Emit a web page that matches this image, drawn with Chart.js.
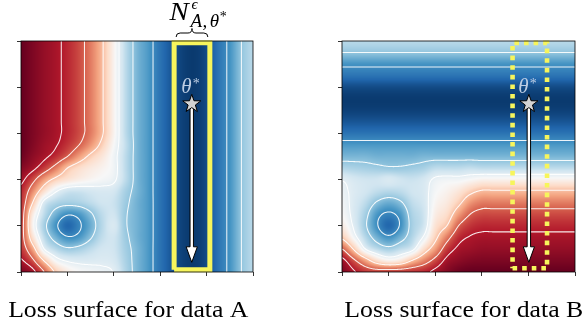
<!DOCTYPE html>
<html>
<head>
<meta charset="utf-8">
<script src="https://cdn.jsdelivr.net/npm/chart.js@4.4.1/dist/chart.umd.min.js"></script>
<style>
  body { margin: 0; background: #fff; }
  #wrap { position: relative; width: 586px; height: 324px; overflow: hidden; }
  .panel { position: absolute; top: 0; width: 293px; height: 324px; }
</style>
</head>
<body>
<div id="wrap">
  <div class="panel" style="left:0"><canvas id="chartA"></canvas></div>
  <div class="panel" style="left:293px"><canvas id="chartB"></canvas></div>
</div>
<script>
// axes run 0..5 on both panels, ticks without labels
const xTicks = [0, 1, 2, 3, 4, 5];
const yTicks = [0, 1, 2, 3, 4, 5];
const gridStep = 0.25;
const contourLevels = [18, 30, 45, 65, 80, 90];

// loss (0 = darkest blue, 100 = darkest red)
// rows go from y = 0 upward, columns from x = 0 to 5 in steps of 0.25
const lossA = [
  [97, 92.5, 80, 63, 54, 50, 48.5, 47, 44.5, 35, 27, 21, 13, 7, 3, 2, 5, 13, 20, 30, 36],
  [91, 82, 64, 49, 44, 42.5, 42.5, 43, 41.5, 34, 27, 21, 13, 7, 3, 2, 5, 13, 20, 30, 36],
  [86, 70, 45, 36, 31.5, 33, 37, 40.5, 40, 33, 27, 21, 13, 7, 3, 2, 5, 13, 20, 30, 36],
  [84.5, 58, 37, 26, 19, 21, 29, 37.5, 40, 32, 26, 21, 13, 7, 3, 2, 5, 13, 20, 30, 36],
  [85, 52, 33, 20, 10.5, 16.5, 25, 36, 42, 31, 26, 21, 13, 7, 3, 2, 5, 13, 20, 30, 36],
  [85.5, 55, 37, 26, 19, 21, 28.5, 37, 40, 31, 26, 21, 13, 7, 3, 2, 5, 13, 20, 30, 36],
  [86.5, 65, 42, 35, 33, 34, 37, 40, 39, 32, 26, 21, 13, 7, 3, 2, 5, 13, 20, 30, 36],
  [88, 74, 58, 46, 40, 39.5, 41, 42, 41, 33.5, 27, 21, 13, 7, 3, 2, 5, 13, 20, 30, 36],
  [92, 83, 71, 62, 57, 53.5, 51, 49, 46.5, 37, 27, 21, 13, 7, 3, 2, 5, 13, 20, 30, 36],
  [96, 92, 85, 76, 65, 59, 55, 52, 48, 37, 27, 21, 13, 7, 3, 2, 5, 13, 20, 30, 36],
  [99, 95, 91.5, 87, 80, 71, 62.5, 56, 48, 37, 27, 21, 13, 7, 3, 2, 5, 13, 20, 30, 36],
  [100, 96.5, 93, 90.5, 86, 80, 72, 62, 50, 38, 27, 21, 13, 7, 3, 2, 5, 13, 20, 30, 36],
  [100, 97, 94, 91.5, 88, 83, 76, 66, 52, 37, 27, 21, 13, 7, 3, 2, 5, 13, 20, 30, 36],
  [100, 97, 94, 91.5, 88, 83, 76, 66, 52, 37, 27, 21, 13, 7, 3, 2, 5, 13, 20, 30, 36],
  [100, 97, 94, 91.5, 88, 83, 76, 66, 52, 37, 27, 21, 13, 7, 3, 2, 5, 13, 20, 30, 36],
  [100, 97, 94, 91.5, 88, 83, 76, 66, 52, 37, 27, 21, 13, 7, 3, 2, 5, 13, 20, 30, 36],
  [100, 97, 94, 91.5, 88, 83, 76, 66, 52, 37, 27, 21, 13, 7, 3, 2, 5, 13, 20, 30, 36],
  [100, 97, 94, 91.5, 88, 83, 76, 66, 52, 37, 27, 21, 13, 7, 3, 2, 5, 13, 20, 30, 36],
  [100, 97, 94, 91.5, 88, 83, 76, 66, 52, 37, 27, 21, 13, 7, 3, 2, 5, 13, 20, 30, 36],
  [100, 97, 94, 91.5, 88, 83, 76, 66, 52, 37, 27, 21, 13, 7, 3, 2, 5, 13, 20, 30, 36],
  [100, 97, 94, 91.5, 88, 83, 76, 66, 52, 37, 27, 21, 13, 7, 3, 2, 5, 13, 20, 30, 36]
];

const lossB = [
  [97, 91, 86, 84.5, 85, 85.5, 86.5, 88, 92, 96, 99, 100, 100, 100, 100, 100, 100, 100, 100, 100, 100],
  [92.5, 82, 70, 58, 52, 55, 65, 74, 83, 92, 95, 96.5, 97, 97, 97, 97, 97, 97, 97, 97, 97],
  [80, 64, 45, 37, 33, 37, 42, 58, 71, 85, 91.5, 93, 94, 94, 94, 94, 94, 94, 94, 94, 94],
  [63, 49, 36, 26, 20, 26, 35, 46, 62, 76, 87, 90.5, 91.5, 91.5, 91.5, 91.5, 91.5, 91.5, 91.5, 91.5, 91.5],
  [54, 44, 31.5, 19, 10.5, 19, 33, 40, 57, 65, 80, 86, 88, 88, 88, 88, 88, 88, 88, 88, 88],
  [50, 42.5, 33, 21, 16.5, 21, 34, 39.5, 53.5, 59, 71, 80, 83, 83, 83, 83, 83, 83, 83, 83, 83],
  [48.5, 42.5, 37, 29, 25, 28.5, 37, 41, 51, 55, 62.5, 72, 76, 76, 76, 76, 76, 76, 76, 76, 76],
  [47, 43, 40.5, 37.5, 36, 37, 40, 42, 49, 52, 56, 62, 66, 66, 66, 66, 66, 66, 66, 66, 66],
  [44.5, 41.5, 40, 40, 42, 40, 39, 41, 46.5, 48, 48, 50, 52, 52, 52, 52, 52, 52, 52, 52, 52],
  [35, 34, 33, 32, 31, 31, 32, 33.5, 37, 37, 37, 38, 37, 37, 37, 37, 37, 37, 37, 37, 37],
  [27, 27, 27, 26, 26, 26, 26, 27, 27, 27, 27, 27, 27, 27, 27, 27, 27, 27, 27, 27, 27],
  [21, 21, 21, 21, 21, 21, 21, 21, 21, 21, 21, 21, 21, 21, 21, 21, 21, 21, 21, 21, 21],
  [13, 13, 13, 13, 13, 13, 13, 13, 13, 13, 13, 13, 13, 13, 13, 13, 13, 13, 13, 13, 13],
  [7, 7, 7, 7, 7, 7, 7, 7, 7, 7, 7, 7, 7, 7, 7, 7, 7, 7, 7, 7, 7],
  [3, 3, 3, 3, 3, 3, 3, 3, 3, 3, 3, 3, 3, 3, 3, 3, 3, 3, 3, 3, 3],
  [2, 2, 2, 2, 2, 2, 2, 2, 2, 2, 2, 2, 2, 2, 2, 2, 2, 2, 2, 2, 2],
  [5, 5, 5, 5, 5, 5, 5, 5, 5, 5, 5, 5, 5, 5, 5, 5, 5, 5, 5, 5, 5],
  [13, 13, 13, 13, 13, 13, 13, 13, 13, 13, 13, 13, 13, 13, 13, 13, 13, 13, 13, 13, 13],
  [20, 20, 20, 20, 20, 20, 20, 20, 20, 20, 20, 20, 20, 20, 20, 20, 20, 20, 20, 20, 20],
  [30, 30, 30, 30, 30, 30, 30, 30, 30, 30, 30, 30, 30, 30, 30, 30, 30, 30, 30, 30, 30],
  [36, 36, 36, 36, 36, 36, 36, 36, 36, 36, 36, 36, 36, 36, 36, 36, 36, 36, 36, 36, 36]
];

// theta* and the arrow tip below it, the neighbourhood boxes (x0, x1, y0, y1)
const thetaA = [3.68, 3.64];
const thetaB = [4.01, 3.64];
const arrowTipA = [3.68, 0.21];
const arrowTipB = [4.01, 0.21];
const boxA = [3.30, 4.07, 0.05, 4.96];
const boxB = [3.66, 4.40, 0.08, 4.96];
const titles = ['Loss surface for data A', 'Loss surface for data B'];

// RdBu stops, red end first
const rdbu = [[103,0,31],[178,24,43],[214,96,77],[244,165,130],[253,219,199],[247,247,247],
              [209,229,240],[146,197,222],[67,147,195],[33,102,172],[5,48,97]];

function lossColour(v) {
  const t = Math.min(10, Math.max(0, (100 - v) / 10));
  const k = Math.min(9, Math.floor(t)), f = t - k;
  const a = rdbu[k], b = rdbu[k + 1];
  return [a[0] + (b[0] - a[0]) * f, a[1] + (b[1] - a[1]) * f, a[2] + (b[2] - a[2]) * f];
}

// smooth reading of the grid between its nodes
function surfaceAt(grid) {
  const ny = grid.length, nx = grid[0].length;
  const at = (j, i) => grid[Math.max(0, Math.min(ny - 1, j))][Math.max(0, Math.min(nx - 1, i))];
  const cr = (p0, p1, p2, p3, t) =>
    p1 + 0.5 * t * (p2 - p0 + t * (2 * p0 - 5 * p1 + 4 * p2 - p3 + t * (3 * (p1 - p2) + p3 - p0)));
  return (x, y) => {
    const gx = x / gridStep, gy = y / gridStep;
    const i = Math.floor(gx), j = Math.floor(gy);
    const tx = gx - i, ty = gy - j;
    const r = [-1, 0, 1, 2].map(d => cr(at(j + d, i - 1), at(j + d, i), at(j + d, i + 1), at(j + d, i + 2), tx));
    return cr(r[0], r[1], r[2], r[3], ty);
  };
}

const surface = {
  id: 'surface',
  beforeDatasetsDraw(chart, args, opts) {
    const { ctx, chartArea: area, scales } = chart;
    const f = surfaceAt(opts.grid);
    const w = Math.round(area.right - area.left), h = Math.round(area.bottom - area.top);
    const xs = [], vals = new Float32Array(w * h);
    for (let c = 0; c < w; c++) xs.push(scales.x.getValueForPixel(area.left + c + 0.5));
    const img = ctx.createImageData(w, h);
    for (let r = 0; r < h; r++) {
      const yv = scales.y.getValueForPixel(area.top + r + 0.5);
      for (let c = 0; c < w; c++) {
        const v = f(xs[c], yv);
        vals[r * w + c] = v;
        const col = lossColour(v), o = (r * w + c) * 4;
        img.data[o] = col[0]; img.data[o + 1] = col[1]; img.data[o + 2] = col[2]; img.data[o + 3] = 255;
      }
    }
    const off = document.createElement('canvas');
    off.width = w; off.height = h;
    off.getContext('2d').putImageData(img, 0, 0);
    ctx.drawImage(off, area.left, area.top);

    // white contour lines
    ctx.save();
    ctx.strokeStyle = 'rgba(255,255,255,0.9)';
    ctx.lineWidth = 1.05;
    ctx.lineCap = 'round';
    for (const L of contourLevels) {
      ctx.beginPath();
      for (let r = 0; r < h - 1; r++) {
        for (let c = 0; c < w - 1; c++) {
          const a = vals[r * w + c], b = vals[r * w + c + 1];
          const d = vals[(r + 1) * w + c], e = vals[(r + 1) * w + c + 1];
          const X = area.left + c + 0.5, Y = area.top + r + 0.5;
          const pts = [];
          if ((a > L) !== (b > L)) pts.push([X + (L - a) / (b - a), Y]);
          if ((b > L) !== (e > L)) pts.push([X + 1, Y + (L - b) / (e - b)]);
          if ((d > L) !== (e > L)) pts.push([X + (L - d) / (e - d), Y + 1]);
          if ((a > L) !== (d > L)) pts.push([X, Y + (L - a) / (d - a)]);
          for (let k = 0; k + 1 < pts.length; k += 2) {
            ctx.moveTo(pts[k][0], pts[k][1]);
            ctx.lineTo(pts[k + 1][0], pts[k + 1][1]);
          }
        }
      }
      ctx.stroke();
    }
    ctx.restore();
  }
};

function starPath(ctx, cx, cy, R) {
  ctx.beginPath();
  for (let k = 0; k < 10; k++) {
    const ang = -Math.PI / 2 + k * Math.PI / 5;
    const rad = k % 2 ? R * 0.4 : R;
    ctx.lineTo(cx + rad * Math.cos(ang), cy + rad * Math.sin(ang));
  }
  ctx.closePath();
}

const overlay = {
  id: 'overlay',
  afterDatasetsDraw(chart, args, o) {
    const { ctx, chartArea: a, scales: { x, y } } = chart;
    ctx.save();
    // frame
    ctx.strokeStyle = '#000';
    ctx.lineWidth = 0.8;
    ctx.strokeRect(a.left, a.top, a.right - a.left, a.bottom - a.top);

    // arrow from theta* downward
    const ax = x.getPixelForValue(o.theta[0]);
    const y0 = y.getPixelForValue(o.theta[1]);
    const y1 = y.getPixelForValue(o.tip[1]);
    const sw = 1.7, hw = 5.6, hl = 15.5;
    ctx.beginPath();
    ctx.moveTo(ax - sw, y0);
    ctx.lineTo(ax + sw, y0);
    ctx.lineTo(ax + sw, y1 - hl);
    ctx.lineTo(ax + hw, y1 - hl);
    ctx.lineTo(ax, y1);
    ctx.lineTo(ax - hw, y1 - hl);
    ctx.lineTo(ax - sw, y1 - hl);
    ctx.closePath();
    ctx.fillStyle = '#fff';
    ctx.fill();
    ctx.lineWidth = 1;
    ctx.strokeStyle = '#000';
    ctx.stroke();

    // star
    starPath(ctx, ax, y0, 9.5);
    ctx.fillStyle = '#d3d3d3';
    ctx.fill();
    ctx.stroke();

    // theta* label
    ctx.fillStyle = '#bccde4';
    ctx.textBaseline = 'alphabetic';
    ctx.textAlign = 'left';
    ctx.font = 'italic 21px "Liberation Serif"';
    ctx.fillText('θ', ax - 10.5, y0 - 10.5);
    ctx.font = '14px "Liberation Serif"';
    ctx.fillText('*', ax + 1, y0 - 16);
    ctx.restore();
  },
  afterDraw(chart, args, o) {
    const { ctx, scales: { x } } = chart;
    ctx.save();
    ctx.fillStyle = '#000';
    ctx.textBaseline = 'alphabetic';

    // caption under the panel, slightly widened serif to match the original face
    ctx.save();
    ctx.font = '23px "Liberation Serif"';
    ctx.textAlign = 'center';
    ctx.translate(o.captionX, 316.5);
    ctx.scale(1.12, 1);
    ctx.fillText(o.caption, 0, 0);
    ctx.restore();

    if (o.brace) {
      const x0 = x.getPixelForValue(o.brace[0]) + 2, x1 = x.getPixelForValue(o.brace[1]) - 2;
      const xc = (x0 + x1) / 2, yb = 37, ym = 33, yt = 28.5, q = 4;
      ctx.strokeStyle = '#000';
      ctx.lineWidth = 1;
      ctx.beginPath();
      ctx.moveTo(x0, yb);
      ctx.quadraticCurveTo(x0, ym, x0 + q, ym);
      ctx.lineTo(xc - q, ym);
      ctx.quadraticCurveTo(xc, ym, xc, yt);
      ctx.quadraticCurveTo(xc, ym, xc + q, ym);
      ctx.lineTo(x1 - q, ym);
      ctx.quadraticCurveTo(x1, ym, x1, yb);
      ctx.stroke();

      ctx.textAlign = 'left';
      ctx.save();
      ctx.font = 'italic 25px "Liberation Serif"';
      ctx.translate(169.5, 19.5);
      ctx.scale(1.15, 1);
      ctx.fillText('N', 0, 0);
      ctx.restore();
      ctx.font = 'italic 15px "Liberation Serif"';
      ctx.fillText('ϵ', 191.5, 8.5);
      ctx.font = 'italic 19px "Liberation Serif"';
      let px = 190.5;
      ctx.fillText('A', px, 26.5);
      px += ctx.measureText('A').width + 0.5;
      ctx.fillText(',', px, 26.5);
      px += ctx.measureText(',').width + 2.5;
      ctx.fillText('θ', px, 26.5);
      px += ctx.measureText('θ').width + 0.5;
      ctx.font = '14px "Liberation Serif"';
      ctx.fillText('*', px, 20.5);
    }
    ctx.restore();
  }
};

function rectPoints(b) {
  return [{ x: b[0], y: b[2] }, { x: b[1], y: b[2] }, { x: b[1], y: b[3] }, { x: b[0], y: b[3] }, { x: b[0], y: b[2] }];
}

function makeChart(id, grid, box, dotted, theta, tip, caption, captionX, leftW, rightPad, brace) {
  const axis = (ticks, fitFn) => ({
    type: 'linear',
    min: 0,
    max: 5,
    afterBuildTicks: s => { s.ticks = ticks.map(v => ({ value: v })); },
    ticks: { display: false },
    grid: { drawOnChartArea: false, drawTicks: true, tickLength: 4, color: '#000', lineWidth: 0.8 },
    border: { display: false },
    afterFit: fitFn
  });

  return new Chart(document.getElementById(id), {
    type: 'scatter',
    data: {
      datasets: [{
        data: rectPoints(box),
        showLine: true,
        borderColor: '#f7f55c',
        borderWidth: dotted ? 4.6 : 5,
        borderDash: dotted ? [4.6, 5] : [],
        borderCapStyle: 'butt',
        borderJoinStyle: 'miter',
        pointRadius: 0,
        clip: false
      }]
    },
    options: {
      responsive: true,
      maintainAspectRatio: false,
      animation: false,
      events: [],
      layout: { padding: { top: 41, right: rightPad, left: 0, bottom: 0 } },
      plugins: {
        legend: { display: false },
        tooltip: { enabled: false },
        surface: { grid: grid },
        overlay: { theta: theta, tip: tip, brace: brace, caption: caption, captionX: captionX }
      },
      scales: {
        x: axis(xTicks, s => { s.height = 52; }),
        y: axis(yTicks, s => { s.width = leftW; })
      }
    },
    plugins: [surface, overlay]
  });
}

makeChart('chartA', lossA, boxA, false, thetaA, arrowTipA, titles[0], 128.3, 21, 40, [boxA[0], boxA[1]]);
makeChart('chartB', lossB, boxB, true, thetaB, arrowTipB, titles[1], 170.8, 49, 11, null);
</script>
</body>
</html>
